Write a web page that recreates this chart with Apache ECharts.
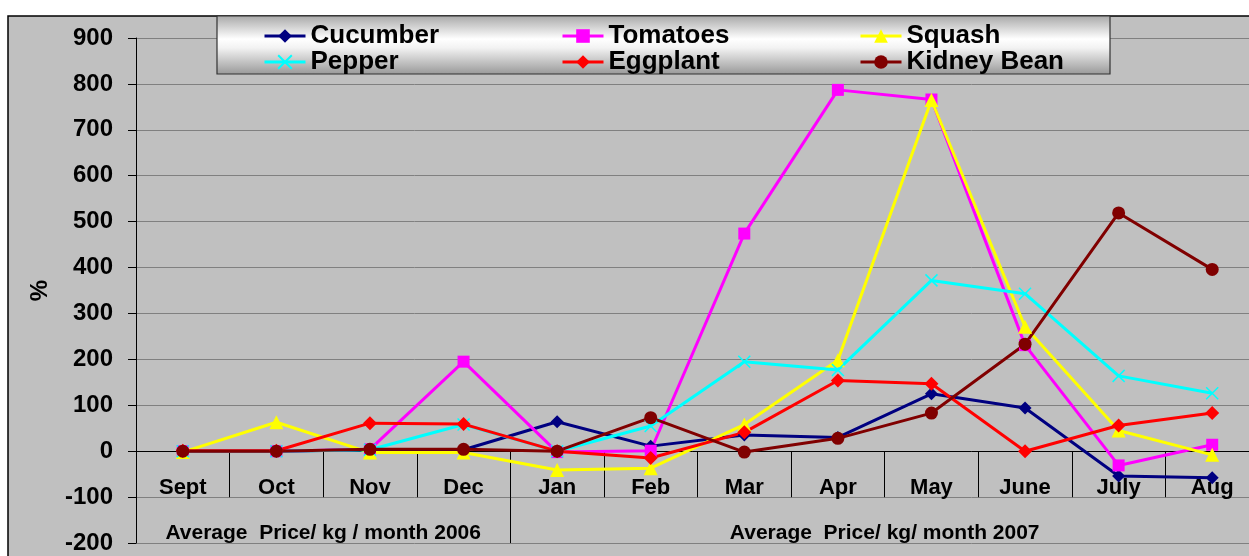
<!DOCTYPE html>
<html>
<head>
<meta charset="utf-8">
<script src="https://cdn.jsdelivr.net/npm/echarts@6/dist/echarts.min.js"></script>
<style>
html,body{margin:0;padding:0;background:#fff;}
#c{width:1249px;height:556px;}
</style>
</head>
<body>
<div id="c"></div>
<script>
const months = ['Sept','Oct','Nov','Dec','Jan','Feb','Mar','Apr','May','June','July','Aug'];
const groupLabels = ['', '', 'Average  Price/ kg / month 2006', '', '', '', '', '', 'Average  Price/ kg/ month 2007', '', '', '', ''];
const cucumber = [0, 0, 3, 3, 64, 11, 35, 30, 125, 94, -54, -58];
const tomatoes = [0, 0, 4, 195, -2, 1, 474, 787, 766, 231, -31, 14];
const squash   = [-2, 63, -3, -3, -41, -37, 58, 198, 765, 271, 45, -8];
const pepper   = [0, 0, 3, 58, 0, 55, 195, 177, 372, 343, 164, 126];
const eggplant = [1, 1, 61, 59, 0, -15, 41, 154, 147, 0, 56, 83];
const kidney   = [0, 0, 4, 4, 0, 73, -2, 28, 83, 233, 519, 396];
const yMin = -200, yMax = 900, yStep = 100;

const FONT = '"Liberation Sans", Arial, sans-serif';
const GRID_TOP = 38, GRID_BOTTOM = 13, H = 556;
const plotH = H - GRID_TOP - GRID_BOTTOM;
const pxPerUnit = plotH / (yMax - yMin);
const zeroOffset = -(0 - yMin) * pxPerUnit;       // month axis sits on value 0
const groupOffset = -(-100 - yMin) * pxPerUnit;   // group axis sits on value -100

const chart = echarts.init(document.getElementById('c'));

function line(name, data, color, symbol, size, extraItem) {
  return {
    name, type: 'line', data,
    symbol, symbolSize: size,
    lineStyle: { color, width: 3 },
    itemStyle: Object.assign({ color }, extraItem || {}),
    emphasis: { disabled: true },
    animation: false
  };
}
const xPath = 'path://M0,0L10,10M10,0L0,10';

function legendCol(left, names) {
  return {
    orient: 'vertical', left, top: 23, padding: 0, itemGap: 0,
    itemWidth: 41, itemHeight: 17, z: 20,
    data: names,
    lineStyle: { width: 3 },
    textStyle: { fontFamily: FONT, fontWeight: 'bold', fontSize: 26, color: '#000', lineHeight: 24 },
    selectedMode: false
  };
}

chart.setOption({
  backgroundColor: '#ffffff',
  animation: false,
  graphic: [
    { type: 'rect', z: -10, shape: { x: 8, y: 16, width: 1300, height: 600 },
      style: { fill: '#c0c0c0', stroke: '#000', lineWidth: 1.5 } },
    { type: 'rect', z: 15, shape: { x: 217, y: 16, width: 893, height: 58 },
      style: { stroke: '#333', lineWidth: 1.2,
        fill: new echarts.graphic.LinearGradient(0, 0, 0, 1, [
          { offset: 0, color: '#a8a8a8' },
          { offset: 0.4, color: '#ffffff' },
          { offset: 0.55, color: '#f2f2f2' },
          { offset: 1, color: '#989898' }
        ]) } }
  ],
  legend: [
    legendCol(263, ['Cucumber', 'Pepper']),
    legendCol(561, ['Tomatoes', 'Eggplant']),
    legendCol(859, ['Squash', 'Kidney Bean'])
  ],
  grid: { left: 136, right: -10, top: GRID_TOP, bottom: GRID_BOTTOM, containLabel: false, outerBoundsMode: 'none' },
  xAxis: [
    {
      type: 'category', data: months, boundaryGap: true, position: 'bottom', offset: zeroOffset,
      axisLine: { show: true, onZero: false, lineStyle: { color: '#000', width: 1 } },
      axisTick: { show: true, length: 46, lineStyle: { color: '#000', width: 1 } },
      axisLabel: { interval: 0, margin: 26, fontFamily: FONT, fontWeight: 'bold', fontSize: 22, color: '#000' },
      splitLine: { show: false }
    },
    {
      type: 'category', data: groupLabels, boundaryGap: false, position: 'bottom', offset: groupOffset,
      axisLine: { show: false, onZero: false },
      axisTick: { show: true, length: 46, interval: (i) => i === 4, lineStyle: { color: '#000', width: 1 } },
      axisLabel: { interval: 0, margin: 26, fontFamily: FONT, fontWeight: 'bold', fontSize: 21, color: '#000', hideOverlap: false },
      splitLine: { show: false }
    }
  ],
  yAxis: {
    type: 'value', min: yMin, max: yMax, interval: yStep,
    name: '%', nameLocation: 'middle', nameGap: 84, nameRotate: 90,
    nameTextStyle: { fontFamily: FONT, fontWeight: 'bold', fontSize: 24, color: '#000' },
    axisLine: { show: true, onZero: false, lineStyle: { color: '#000', width: 1 } },
    axisTick: { show: true, length: 8, lineStyle: { color: '#000' } },
    axisLabel: { margin: 23, fontFamily: FONT, fontWeight: 'bold', fontSize: 24, color: '#000' },
    splitLine: { show: true, lineStyle: { color: '#808080', width: 1 } }
  },
  series: [
    line('Cucumber', cucumber, '#000080', 'diamond', 13),
    line('Tomatoes', tomatoes, '#ff00ff', 'rect', 12),
    line('Squash', squash, '#ffff00', 'triangle', 14),
    line('Pepper', pepper, '#00ffff', xPath, 12, { borderColor: '#00ffff', borderWidth: 1.5 }),
    line('Eggplant', eggplant, '#ff0000', 'diamond', 14),
    line('Kidney Bean', kidney, '#800000', 'circle', 13)
  ]
});
</script>
</body>
</html>
